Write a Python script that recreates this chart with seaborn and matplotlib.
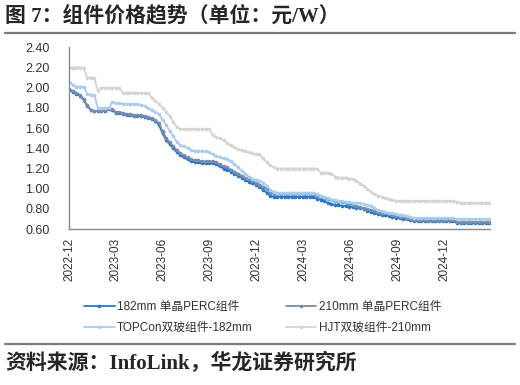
import pandas as pd
import seaborn as sns
import matplotlib.pyplot as plt
import matplotlib.dates as mdates
from matplotlib.lines import Line2D

# weekly quotes, first week of Dec 2022 to end of Feb 2025
weeks = pd.date_range("2022-12-01", periods=118, freq="7D")

perc_182 = [
    1.98, 1.96, 1.94, 1.92, 1.88, 1.82, 1.78, 1.77, 1.77, 1.77,
    1.77, 1.79, 1.78, 1.75, 1.75, 1.74, 1.73, 1.73, 1.72, 1.72,
    1.72, 1.71, 1.70, 1.69, 1.67, 1.63, 1.55, 1.48, 1.44, 1.40,
    1.36, 1.33, 1.31, 1.29, 1.27, 1.26, 1.26, 1.25, 1.25, 1.25,
    1.25, 1.24, 1.22, 1.20, 1.19, 1.17, 1.15, 1.13, 1.11, 1.09,
    1.07, 1.06, 1.04, 1.02, 0.99, 0.96, 0.93, 0.92, 0.92, 0.92,
    0.92, 0.92, 0.92, 0.92, 0.92, 0.92, 0.92, 0.92, 0.92, 0.90,
    0.89, 0.88, 0.86, 0.85, 0.84, 0.84, 0.83, 0.83, 0.82, 0.82,
    0.81, 0.81, 0.80, 0.78, 0.77, 0.76, 0.75, 0.74, 0.74, 0.73,
    0.72, 0.71, 0.71, 0.70, 0.70, 0.69, 0.68, 0.68, 0.68, 0.68,
    0.68, 0.68, 0.68, 0.68, 0.68, 0.68, 0.68, 0.68, 0.66, 0.66,
    0.66, 0.66, 0.66, 0.66, 0.66, 0.66, 0.66, 0.66,
]

perc_210 = [
    1.99, 1.97, 1.95, 1.93, 1.89, 1.83, 1.78, 1.77, 1.77, 1.77,
    1.78, 1.80, 1.79, 1.76, 1.76, 1.75, 1.74, 1.74, 1.73, 1.73,
    1.73, 1.72, 1.71, 1.70, 1.68, 1.65, 1.57, 1.50, 1.46, 1.42,
    1.38, 1.35, 1.33, 1.31, 1.29, 1.28, 1.28, 1.27, 1.27, 1.27,
    1.27, 1.26, 1.24, 1.22, 1.21, 1.19, 1.17, 1.15, 1.13, 1.11,
    1.10, 1.08, 1.06, 1.04, 1.02, 1.00, 0.96, 0.95, 0.95, 0.95,
    0.95, 0.95, 0.95, 0.95, 0.95, 0.95, 0.95, 0.95, 0.95, 0.93,
    0.92, 0.91, 0.90, 0.89, 0.88, 0.87, 0.87, 0.86, 0.85, 0.84,
    0.83, 0.82, 0.81, 0.80, 0.79, 0.78, 0.77, 0.76, 0.76, 0.75,
    0.74, 0.73, 0.72, 0.72, 0.71, 0.70, 0.69, 0.69, 0.69, 0.69,
    0.69, 0.69, 0.69, 0.69, 0.69, 0.69, 0.69, 0.69, 0.67, 0.67,
    0.67, 0.67, 0.67, 0.67, 0.67, 0.67, 0.67, 0.67,
]

topcon_182 = [
    2.06, 2.03, 2.01, 2.01, 2.01, 1.94, 1.93, 1.93, 1.80, 1.80,
    1.80, 1.80, 1.86, 1.85, 1.85, 1.84, 1.84, 1.84, 1.84, 1.84,
    1.83, 1.82, 1.80, 1.78, 1.76, 1.74, 1.68, 1.63, 1.57, 1.52,
    1.46, 1.43, 1.42, 1.40, 1.38, 1.37, 1.37, 1.37, 1.37, 1.36,
    1.34, 1.32, 1.31, 1.30, 1.29, 1.27, 1.24, 1.21, 1.18, 1.15,
    1.12, 1.10, 1.09, 1.08, 1.06, 1.03, 0.99, 0.97, 0.96, 0.96,
    0.96, 0.96, 0.96, 0.96, 0.96, 0.96, 0.96, 0.96, 0.96, 0.95,
    0.93, 0.92, 0.91, 0.89, 0.89, 0.88, 0.88, 0.87, 0.87, 0.86,
    0.86, 0.86, 0.85, 0.84, 0.83, 0.81, 0.79, 0.78, 0.77, 0.76,
    0.76, 0.75, 0.74, 0.74, 0.73, 0.72, 0.71, 0.71, 0.71, 0.71,
    0.71, 0.71, 0.71, 0.71, 0.71, 0.71, 0.71, 0.71, 0.70, 0.70,
    0.70, 0.70, 0.70, 0.70, 0.70, 0.70, 0.70, 0.70,
]

hjt_210 = [
    2.20, 2.20, 2.20, 2.20, 2.20, 2.10, 2.10, 2.10, 1.97, 2.00,
    2.00, 2.00, 2.00, 2.00, 2.00, 1.95, 1.95, 1.95, 1.95, 1.95,
    1.95, 1.95, 1.95, 1.90, 1.87, 1.84, 1.80, 1.76, 1.72, 1.66,
    1.61, 1.59, 1.59, 1.59, 1.59, 1.59, 1.59, 1.59, 1.59, 1.59,
    1.53, 1.51, 1.50, 1.48, 1.45, 1.43, 1.41, 1.39, 1.38, 1.37,
    1.36, 1.35, 1.34, 1.34, 1.30, 1.26, 1.23, 1.21, 1.20, 1.20,
    1.20, 1.20, 1.20, 1.20, 1.20, 1.20, 1.20, 1.20, 1.20, 1.20,
    1.16, 1.16, 1.16, 1.15, 1.12, 1.11, 1.11, 1.11, 1.10, 1.10,
    1.08, 1.05, 1.03, 1.00, 0.97, 0.95, 0.93, 0.92, 0.91, 0.90,
    0.89, 0.88, 0.88, 0.88, 0.88, 0.88, 0.88, 0.88, 0.88, 0.88,
    0.88, 0.88, 0.88, 0.88, 0.88, 0.88, 0.88, 0.88, 0.87, 0.86,
    0.86, 0.86, 0.86, 0.86, 0.86, 0.86, 0.86, 0.86,
]

series_names = ["182mm 单晶PERC组件", "210mm 单晶PERC组件",
                "TOPCon双玻组件-182mm", "HJT双玻组件-210mm"]
x_ticks = pd.to_datetime(["2022-12-01", "2023-03-01", "2023-06-01", "2023-09-01",
                          "2023-12-01", "2024-03-01", "2024-06-01", "2024-09-01",
                          "2024-12-01"])
y_ticks = [0.60, 0.80, 1.00, 1.20, 1.40, 1.60, 1.80, 2.00, 2.20, 2.40]

colors = ["#1f78d2", "#7d8ca6", "#a9cdf0", "#d4d4d4"]

frames = []
for name, vals in zip(series_names, [perc_182, perc_210, topcon_182, hjt_210]):
    frames.append(pd.DataFrame({"date": weeks, "price": vals, "series": name}))
df = pd.concat(frames, ignore_index=True)

sns.set_style("white")
cjk = ["Liberation Sans", "Noto Sans CJK SC", "DejaVu Sans"]
serif_cjk = ["Liberation Serif", "Noto Sans CJK SC", "DejaVu Sans"]
plt.rcParams["font.family"] = cjk

fig = plt.figure(figsize=(5.2, 3.85), dpi=100)
ax = fig.add_axes([0.133, 0.405, 0.809, 0.472])

sns.lineplot(data=df, x="date", y="price", hue="series", hue_order=series_names,
             palette=colors, marker="o", markersize=2.6, markeredgewidth=0,
             linewidth=1.3, ax=ax, legend=True)

ax.set_xlim(weeks[0], weeks[-1] + pd.Timedelta(days=1))
ax.set_ylim(0.6, 2.4)
ax.set_yticks(y_ticks)
ax.yaxis.set_major_formatter(plt.FuncFormatter(lambda v, p: f"{v:.2f}"))
ax.set_xticks(x_ticks)
ax.xaxis.set_major_formatter(mdates.DateFormatter("%Y-%m"))
ax.set_xlabel("")
ax.set_ylabel("")

for s in ["top", "right"]:
    ax.spines[s].set_visible(False)
for s in ["left", "bottom"]:
    ax.spines[s].set_color("#8a8a8a")
    ax.spines[s].set_linewidth(1.0)
ax.tick_params(axis="both", direction="in", length=4, color="#8a8a8a",
               labelsize=9, labelcolor="#333333")
ax.tick_params(axis="y", pad=14)
ax.tick_params(axis="x", rotation=90, pad=6, labelsize=8.5)

handles, labels = ax.get_legend_handles_labels()
ax.get_legend().remove()
order = [0, 2, 1, 3]  # fill row by row like the original
fig.legend([handles[i] for i in order], [labels[i] for i in order],
           loc="center", bbox_to_anchor=(0.505, 0.176), ncol=2,
           frameon=False, fontsize=8.5, handlelength=2.6, columnspacing=2.8,
           handletextpad=0.2, labelspacing=0.75, labelcolor="#333333")

# header / footer
fig.text(0.01, 0.958, "图 7：组件价格趋势（单位：元/W）", fontsize=15, fontweight="bold",
         family=serif_cjk, va="center", ha="left")
fig.add_artist(Line2D([0.01, 0.99], [0.915, 0.915], color="#7a7a7a", linewidth=1.6))
fig.add_artist(Line2D([0.01, 0.99], [0.106, 0.106], color="#7a7a7a", linewidth=1.6))
fig.text(0.01, 0.057, "资料来源：InfoLink，华龙证券研究所", fontsize=15, fontweight="bold",
         family=serif_cjk, va="center", ha="left")

fig.savefig("out.png", dpi=100)
